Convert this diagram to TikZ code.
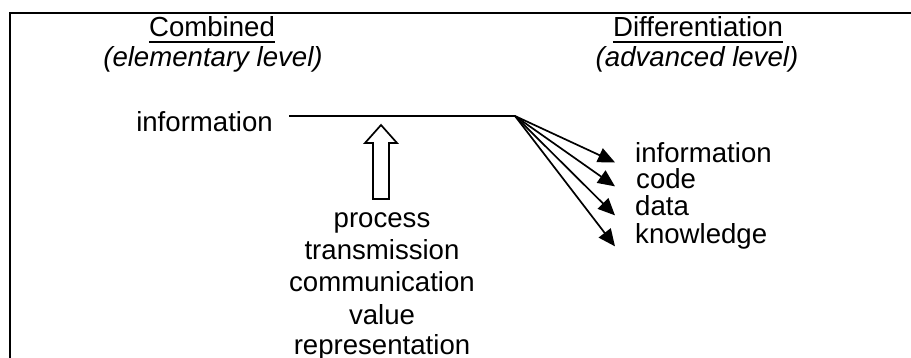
\documentclass[tikz,border=0pt]{standalone}
\usepackage{fontspec}
\setmainfont{Liberation Sans}
\usetikzlibrary{arrows.meta}

\tikzset{
  lbl/.style={inner sep=0pt,font=\fontsize{27.6}{31}\selectfont},
  fan/.style={line width=1.7pt,-{Triangle[length=17pt,width=15pt]}}
}

\begin{document}
\begin{tikzpicture}[x=1pt,y=-1pt]
            \useasboundingbox (0,0) rectangle (911,358);
            \draw [line width=2pt] (9.5,358) -- (9.5,13) -- (911,13);

            \node [lbl,anchor=base] (comb) at (212,37) {Combined};
            \draw [line width=2.2pt] ([yshift=-5pt]comb.base west) -- ([yshift=-5pt]comb.base east);
            \node [lbl,anchor=base,font=\fontsize{27.6}{31}\selectfont\itshape] (elem) at (213,67) {(elementary level)};
            \node [lbl,anchor=base] (diff) at (698,37) {Differentiation};
            \draw [line width=2.2pt] ([yshift=-5pt]diff.base west) -- ([yshift=-5pt]diff.base east);
            \node [lbl,anchor=base,font=\fontsize{27.6}{31}\selectfont\itshape] (adv) at (697,67) {(advanced level)};

            \node [lbl,anchor=base east] (info) at (273,132) {information};
            \coordinate (start) at (289,116);
            \coordinate (split) at (515,116);
            \draw [line width=2pt] (start) -- (split);

            \draw [line width=1.7pt,fill=white] (373,199) -- (373,143) -- (365,143) -- (381,125)
                -- (397,143) -- (389,143) -- (389,199) -- cycle;

            \node [lbl,anchor=base] (proc) at (382,228) {process};
            \node [lbl,anchor=base] (trans) at (382,260) {transmission};
            \node [lbl,anchor=base] (comm) at (382,292) {communication};
            \node [lbl,anchor=base] (val) at (382,324) {value};
            \node [lbl,anchor=base] (repr) at (382,355) {representation};

            \node [lbl,anchor=base west] (rinfo) at (635,163) {information};
            \node [lbl,anchor=base west] (code) at (636,189) {code};
            \node [lbl,anchor=base west] (data) at (635,216) {data};
            \node [lbl,anchor=base west] (know) at (635,244) {knowledge};

            \draw [fan] (split) -- ([xshift=-20pt,yshift=-2pt]rinfo.mid west);
            \draw [fan] (split) -- ([xshift=-21pt]code.mid west);
            \draw [fan] (split) -- ([xshift=-20pt,yshift=-2pt]data.mid west);
            \draw [fan] (split) -- ([xshift=-20pt,yshift=-5pt]know.mid west);
        \end{tikzpicture}
\end{document}
